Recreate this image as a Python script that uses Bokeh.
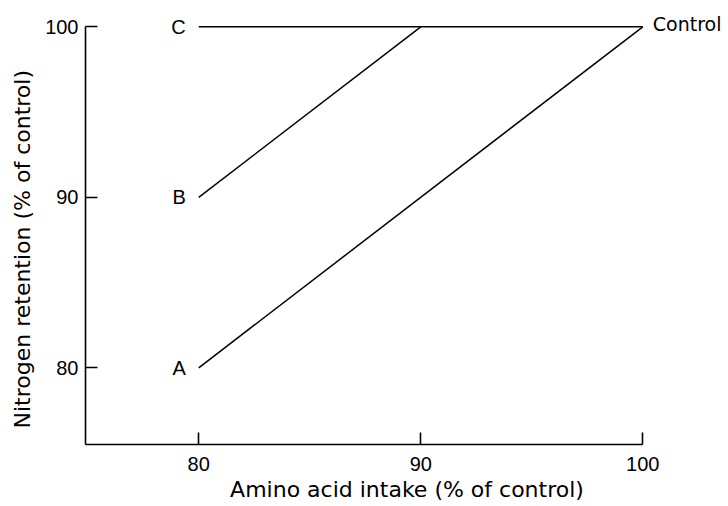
from bokeh.plotting import figure
from bokeh.models import Range1d, FixedTicker, LinearAxis, Title
from bokeh.core.properties import value
from bokeh.embed import file_html
from bokeh.resources import INLINE

# ---- data ----
intake_a = [80, 100]
retention_a = [80, 100]
intake_b = [80, 90]
retention_b = [90, 100]
intake_c = [80, 100]
retention_c = [100, 100]
curve_names = ["A", "B", "C"]
curve_start_x = [80, 80, 80]
curve_start_y = [80, 90, 100]
control_name = ["Control"]
control_x = [100]
control_y = [100]
x_ticks = [80, 90, 100]
y_ticks = [80, 90, 100]
x_title = "Amino acid intake (% of control)"
y_title = "Nitrogen retention (% of control)"

# ---- layout ----
W, H = 728, 506
LEFT, RIGHT, TOP, BOTTOM = 85, 0, 5, 62
x0, x1 = 74.9, 103.86
y0, y1 = 75.5, 101.25
FONT = "Liberation Sans"
TITLE_FONT = "DejaVu Sans"

p = figure(width=W, height=H, x_range=Range1d(x0, x1), y_range=Range1d(y0, y1),
           output_backend="svg", toolbar_location=None,
           min_border_left=LEFT, min_border_right=RIGHT,
           min_border_top=TOP, min_border_bottom=BOTTOM)
p.grid.visible = False
p.outline_line_color = None
p.background_fill_color = "white"
p.border_fill_color = "white"

for ax, ticks, lo in ((p.xaxis[0], x_ticks, x0), (p.yaxis[0], y_ticks, y0)):
    ax.ticker = FixedTicker(ticks=ticks)
    ax.bounds = (lo, 100)
    ax.major_tick_in = 12
    ax.major_tick_out = 0
    ax.minor_tick_line_color = None
    ax.axis_line_width = 1.6
    ax.major_tick_line_width = 1.6
    ax.axis_line_color = "black"
    ax.major_tick_line_color = "black"
    ax.major_label_text_font = FONT
    ax.major_label_text_font_size = "20px"
    ax.major_label_text_color = "black"
p.xaxis.major_label_standoff = 12
p.yaxis.major_label_standoff = 7

# y title, placed from the bottom of the left panel upwards
p.add_layout(Title(text=y_title, align="left", offset=16, vertical_align="middle",
                   standoff=13, text_font=TITLE_FONT, text_font_size="22px",
                   text_font_style="normal", text_color="black"), "left")

# x title on a second, bare axis (centred on the whole frame)
title_axis = LinearAxis(ticker=FixedTicker(ticks=[]), axis_line_color=None,
                        major_tick_line_color=None, minor_tick_line_color=None,
                        major_label_standoff=0, major_tick_in=0, major_tick_out=0,
                        axis_label=x_title, axis_label_text_font=TITLE_FONT,
                        axis_label_text_font_size="22px",
                        axis_label_text_font_style="normal",
                        axis_label_text_color="black", axis_label_standoff=3)
p.add_layout(title_axis, "below")

for xs, ys in ((intake_a, retention_a), (intake_b, retention_b), (intake_c, retention_c)):
    p.line(xs, ys, line_color="black", line_width=1.5)

p.text(x=curve_start_x, y=curve_start_y, text=curve_names, text_align="right",
       text_baseline="middle", x_offset=-13, text_font=value(FONT),
       text_font_size="20px", text_color="black")
p.text(x=control_x, y=control_y, text=control_name, text_align="left",
       text_baseline="middle", x_offset=10, y_offset=-3, text_font=value(TITLE_FONT),
       text_font_size="19px", text_color="black")

open("out.html", "w").write(file_html(p, INLINE))
